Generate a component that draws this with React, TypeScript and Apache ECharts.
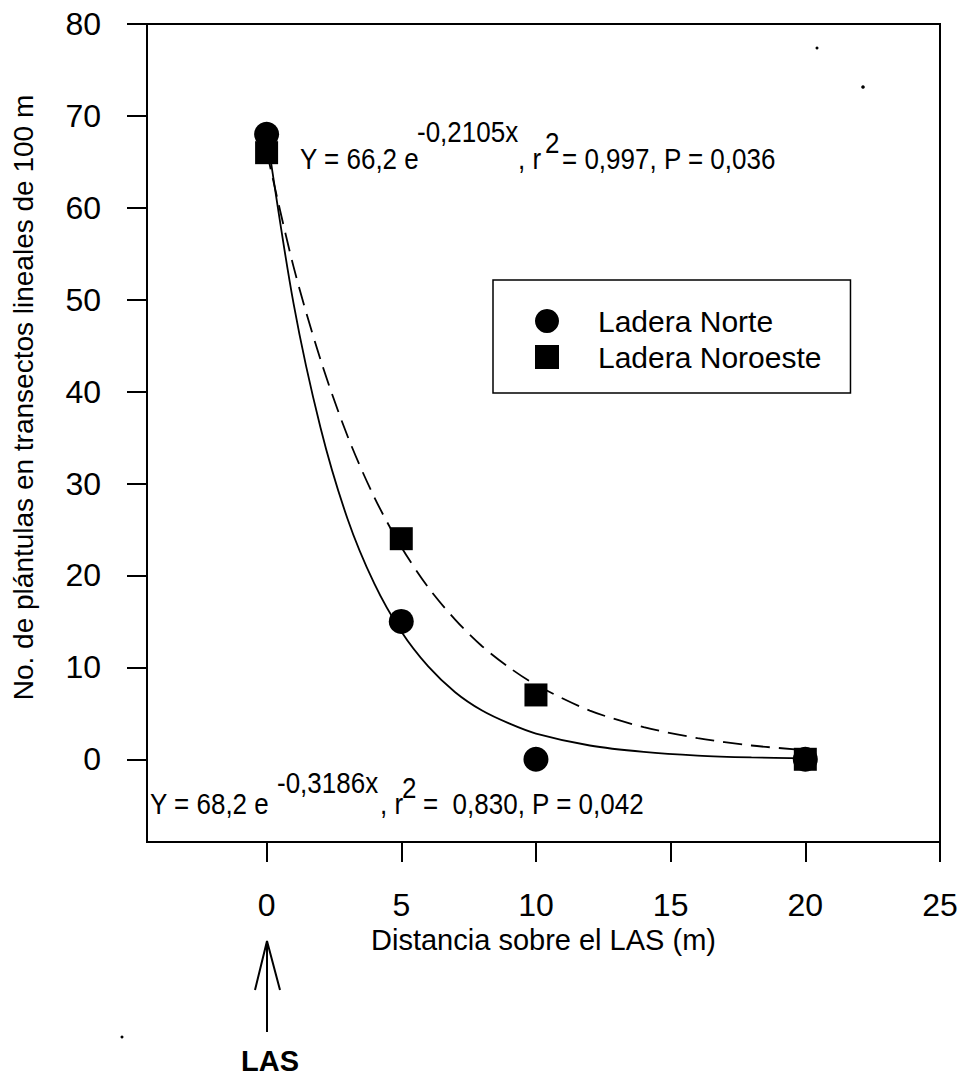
import React, { useEffect, useRef } from "react";
import * as echarts from "echarts";

// ---- data ----
const xTicks = [0, 5, 10, 15, 20, 25];
const yTicks = [0, 10, 20, 30, 40, 50, 60, 70, 80];
const distances = [0, 5, 10, 20];
const laderaNorte = [68, 15, 0, 0];
const laderaNoroeste = [66, 24, 7, 0];
// fitted curves
const curveX = [0, 1, 2, 3, 4, 5, 6, 7, 8, 9, 10, 12, 14, 16, 18, 20];
const curveNorte = [68.2, 49.6, 36.1, 26.2, 19.1, 13.9, 10.1, 7.3, 5.3, 3.9, 2.8, 1.5, 0.8, 0.4, 0.2, 0.1];
const curveNoroeste = [66.2, 53.6, 43.5, 35.2, 28.5, 23.1, 18.7, 15.2, 12.3, 10.0, 8.1, 5.3, 3.5, 2.3, 1.5, 1.0];

const FONT = '"Liberation Sans", Arial, sans-serif';

function txt(text: string, x: number, y: number, size: number, extra: any = {}, sy = 1.12) {
  return {
    type: "text",
    x,
    y,
    scaleY: sy,
    silent: true,
    style: {
      text,
      fill: "#000",
      fontSize: size,
      fontFamily: FONT,
      align: "left",
      verticalAlign: "middle",
      ...extra,
    },
  };
}

export default function App() {
  const ref = useRef<HTMLDivElement>(null);
  useEffect(() => {
    if (!ref.current) return;
    const chart = echarts.init(ref.current, undefined, { renderer: "svg" });
    const pairs = (xs: number[], ys: number[]) => xs.map((x, i) => [x, ys[i]]);
    chart.setOption({
      animation: false,
      backgroundColor: "#fff",
      grid: {
        left: 147,
        right: 25,
        top: 24,
        bottom: 235,
        show: true,
        borderColor: "#000",
        borderWidth: 2,
        containLabel: false,
      },
      legend: {
        left: 493,
        top: 280,
        orient: "vertical",
        data: [
          { name: "Ladera Norte", icon: "circle" },
          { name: "Ladera Noroeste", icon: "rect" },
        ],
        itemWidth: 24,
        itemHeight: 24,
        itemGap: 6,
        itemStyle: { opacity: 1, color: "#000" },
        borderColor: "#000",
        borderWidth: 1.5,
        borderRadius: 0,
        padding: [26, 29, 21, 42],
        textStyle: {
          fontSize: 30,
          fontFamily: FONT,
          color: "#000",
          lineHeight: 30,
          padding: [0, 0, 0, 34],
        },
      },
      xAxis: {
        type: "value",
        min: -4.44,
        max: 25,
        name: "Distancia sobre el LAS (m)",
        nameLocation: "middle",
        nameGap: 73,
        nameTextStyle: { fontSize: 29, fontFamily: FONT, color: "#000" },
        axisLine: { show: true, onZero: false, lineStyle: { color: "#000", width: 2 } },
        axisTick: { show: true, inside: false, length: 20, customValues: xTicks, lineStyle: { color: "#000", width: 2 } },
        axisLabel: { customValues: xTicks, margin: 47, fontSize: 32, fontFamily: FONT, color: "#000" },
        splitLine: { show: false },
      },
      yAxis: {
        type: "value",
        min: -9,
        max: 80,
        name: "No. de plántulas en transectos lineales de 100 m",
        nameLocation: "middle",
        nameGap: 110,
        nameTextStyle: { fontSize: 28, fontFamily: FONT, color: "#000", padding: [0, 0, 0, 71] },
        axisLine: { show: true, onZero: false, lineStyle: { color: "#000", width: 2 } },
        axisTick: { show: true, inside: false, length: 20, customValues: yTicks, lineStyle: { color: "#000", width: 2 } },
        axisLabel: { customValues: yTicks, margin: 46, fontSize: 32, fontFamily: FONT, color: "#000" },
        splitLine: { show: false },
      },
      series: [
        {
          name: "Ajuste Ladera Norte",
          type: "line",
          data: pairs(curveX, curveNorte),
          smooth: 0.3,
          showSymbol: false,
          symbol: "none",
          lineStyle: { color: "#000", width: 1.8 },
          z: 2,
        },
        {
          name: "Ajuste Ladera Noroeste",
          type: "line",
          data: pairs(curveX, curveNoroeste),
          smooth: 0.3,
          showSymbol: false,
          symbol: "none",
          lineStyle: { color: "#000", width: 1.8, type: [19, 9] },
          z: 2,
        },
        {
          name: "Ladera Norte",
          type: "scatter",
          symbol: "circle",
          symbolSize: 25,
          data: pairs(distances, laderaNorte),
          itemStyle: { color: "#000", opacity: 1 },
          z: 3,
        },
        {
          name: "Ladera Noroeste",
          type: "scatter",
          symbol: "rect",
          symbolSize: 23,
          data: pairs(distances, laderaNoroeste),
          itemStyle: { color: "#000", opacity: 1 },
          z: 4,
        },
      ],
      graphic: [
        // upper equation
        txt("Y = 66,2 e", 300, 158.5, 26),
        txt("-0,2105x", 417, 131.5, 26),
        txt(", r", 518, 158.5, 26),
        txt("2", 545, 143, 26),
        txt("= 0,997, P = 0,036", 562, 158.5, 26),
        // lower equation
        txt("Y = 68,2 e", 150, 803.5, 26),
        txt("-0,3186x", 277, 783, 26),
        txt(", r", 380, 803.5, 26),
        txt("2", 402, 787.5, 26),
        txt("=  0,830, P = 0,042", 423, 803.5, 26),
        // LAS arrow
        { type: "line", silent: true, shape: { x1: 267, y1: 1032, x2: 267, y2: 941 }, style: { stroke: "#000", lineWidth: 2 } },
        { type: "polyline", silent: true, shape: { points: [[255, 990], [267, 941], [280, 990]] }, style: { stroke: "#000", lineWidth: 2, fill: null } },
        txt("LAS", 270, 1061, 29, { align: "center", fontWeight: "bold" }, 1),
        // scan specks
        { type: "circle", silent: true, shape: { cx: 817, cy: 48, r: 1.5 }, style: { fill: "#000" } },
        { type: "circle", silent: true, shape: { cx: 863, cy: 87, r: 1.8 }, style: { fill: "#000" } },
        { type: "circle", silent: true, shape: { cx: 122, cy: 1037, r: 1.5 }, style: { fill: "#000" } },
      ],
    });
    return () => chart.dispose();
  }, []);
  return (
    <div
      ref={ref}
      style={{ position: "fixed", left: 0, top: 0, width: 965, height: 1077, background: "#fff" }}
    />
  );
}
